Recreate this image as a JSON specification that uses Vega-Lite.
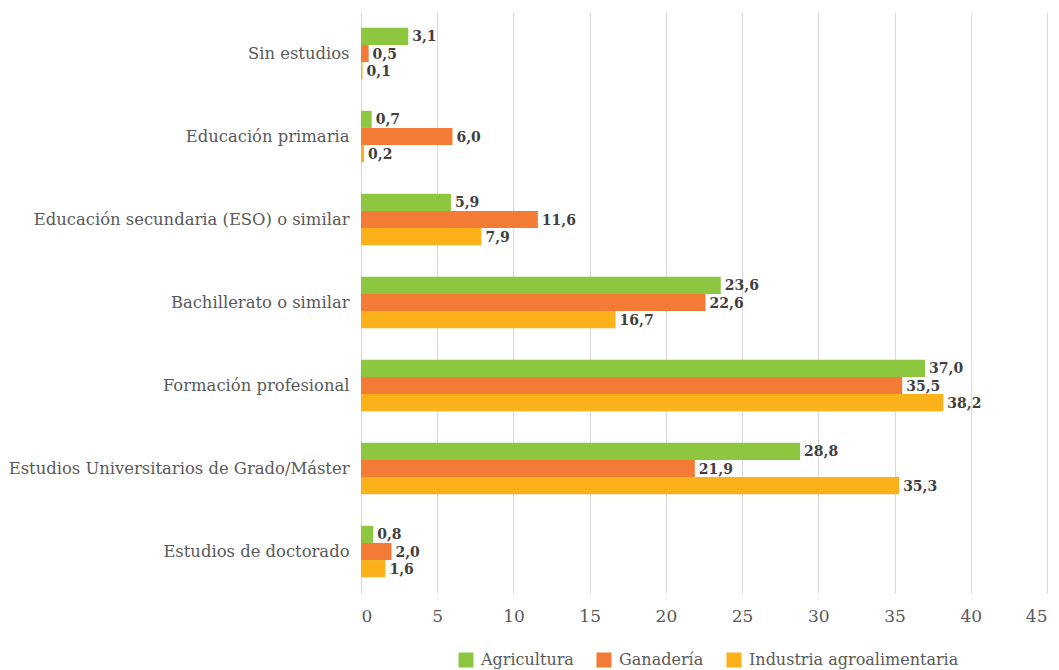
{
  "$schema": "https://vega.github.io/schema/vega-lite/v6.json",
  "width": 686,
  "height": 581,
  "autosize": {"type": "none"},
  "padding": {"left": 361, "top": 12, "right": 12, "bottom": 77},
  "background": "white",
  "data": {"values": [
    {"nivel": "Sin estudios", "sector": "Agricultura", "v": 3.1},
    {"nivel": "Sin estudios", "sector": "Ganadería", "v": 0.5},
    {"nivel": "Sin estudios", "sector": "Industria agroalimentaria", "v": 0.1},
    {"nivel": "Educación primaria", "sector": "Agricultura", "v": 0.7},
    {"nivel": "Educación primaria", "sector": "Ganadería", "v": 6.0},
    {"nivel": "Educación primaria", "sector": "Industria agroalimentaria", "v": 0.2},
    {"nivel": "Educación secundaria (ESO) o similar", "sector": "Agricultura", "v": 5.9},
    {"nivel": "Educación secundaria (ESO) o similar", "sector": "Ganadería", "v": 11.6},
    {"nivel": "Educación secundaria (ESO) o similar", "sector": "Industria agroalimentaria", "v": 7.9},
    {"nivel": "Bachillerato o similar", "sector": "Agricultura", "v": 23.6},
    {"nivel": "Bachillerato o similar", "sector": "Ganadería", "v": 22.6},
    {"nivel": "Bachillerato o similar", "sector": "Industria agroalimentaria", "v": 16.7},
    {"nivel": "Formación profesional", "sector": "Agricultura", "v": 37.0},
    {"nivel": "Formación profesional", "sector": "Ganadería", "v": 35.5},
    {"nivel": "Formación profesional", "sector": "Industria agroalimentaria", "v": 38.2},
    {"nivel": "Estudios Universitarios de Grado/Máster", "sector": "Agricultura", "v": 28.8},
    {"nivel": "Estudios Universitarios de Grado/Máster", "sector": "Ganadería", "v": 21.9},
    {"nivel": "Estudios Universitarios de Grado/Máster", "sector": "Industria agroalimentaria", "v": 35.3},
    {"nivel": "Estudios de doctorado", "sector": "Agricultura", "v": 0.8},
    {"nivel": "Estudios de doctorado", "sector": "Ganadería", "v": 2.0},
    {"nivel": "Estudios de doctorado", "sector": "Industria agroalimentaria", "v": 1.6}
  ]},
  "transform": [
    {"calculate": "replace(format(datum.v, '.1f'), '.', ',')", "as": "etiqueta"}
  ],
  "encoding": {
    "y": {
      "field": "nivel", "type": "nominal", "sort": null,
      "scale": {"paddingInner": 0.38, "paddingOuter": 0.19},
      "axis": {"title": null, "domain": false, "ticks": false, "labelPadding": 12,
               "labelFont": "DejaVu Serif", "labelFontSize": 16.4, "labelColor": "#595959", "labelLimit": 400}
    },
    "yOffset": {"field": "sector", "type": "nominal", "sort": ["Agricultura", "Ganadería", "Industria agroalimentaria"]},
    "x": {
      "field": "v", "type": "quantitative",
      "scale": {"domain": [0, 45], "nice": false},
      "axis": {"title": null, "values": [0,5,10,15,20,25,30,35,40,45], "domain": false, "ticks": false,
               "grid": true, "gridColor": "#d9d9d9", "labelPadding": 15,
               "labelFont": "DejaVu Serif", "labelFontSize": 17, "labelColor": "#595959"}
    }
  },
  "layer": [
    {
      "mark": {"type": "bar"},
      "encoding": {
        "color": {
          "field": "sector", "type": "nominal",
          "scale": {"domain": ["Agricultura", "Ganadería", "Industria agroalimentaria"],
                    "range": ["#8DC63F", "#F47B35", "#FBB11A"]},
          "legend": {"title": null, "orient": "none", "legendX": 97, "legendY": 640,
                     "direction": "horizontal", "symbolType": "square",
                     "symbolSize": 225, "symbolStrokeWidth": 0, "labelFont": "DejaVu Serif", "labelFontSize": 16,
                     "labelColor": "#595959", "labelLimit": 400, "labelOffset": 7, "columnPadding": 22, "symbolOpacity": 1}
        }
      }
    },
    {
      "mark": {"type": "text", "align": "left", "baseline": "middle", "dx": 4, "dy": 1,
               "font": "DejaVu Serif", "fontWeight": "bold", "fontSize": 14, "color": "#404040"},
      "encoding": {"text": {"field": "etiqueta"}}
    }
  ],
  "config": {"view": {"stroke": null}}
}
